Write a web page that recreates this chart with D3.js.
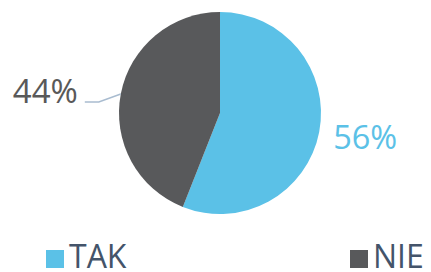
<!DOCTYPE html>
<html><head><meta charset="utf-8">
<script src="https://cdn.jsdelivr.net/npm/d3@7"></script>
<style>body{margin:0;background:#fff}svg{display:block}</style>
</head><body>
<svg id="c" width="431" height="272"></svg>
<script>
const categories = ["TAK", "NIE"];
const values = [56, 44];
const labels = ["56%", "44%"];
const colors = ["#5bc1e7", "#58595b"];

const svg = d3.select("#c");
const cx = 220, cy = 113, R = 101;
const g = svg.append("g").attr("transform", `translate(${cx},${cy})`);
const pie = d3.pie().sort(null).value(d => d)(values);
const arc = d3.arc().innerRadius(0).outerRadius(R);
g.selectAll("path").data(pie).join("path")
  .attr("d", arc).attr("fill", (d, i) => colors[i]);

const font = "'Open Sans', sans-serif";
// 56% label
const a0 = (pie[0].startAngle + pie[0].endAngle) / 2;
const e0 = [R * Math.sin(a0), -R * Math.cos(a0)];
g.append("text").attr("x", e0[0] + 14).attr("y", e0[1] + 17)
  .attr("font-family", font).attr("font-size", 32.5).attr("fill", colors[0])
  .text(labels[0]);
// 44% label with leader
const a1 = (pie[1].startAngle + pie[1].endAngle) / 2;
const e1 = [R * Math.sin(a1), -R * Math.cos(a1)];
g.append("polyline")
  .attr("points", [[e1[0], e1[1]], [e1[0] - 22, e1[1] + 8], [e1[0] - 36, e1[1] + 8]].map(p => p.join(",")).join(" "))
  .attr("fill", "none").attr("stroke", "#a9bcd0").attr("stroke-width", 1.5);
g.append("text").attr("x", e1[0] - 43).attr("y", e1[1] + 9).attr("text-anchor", "end")
  .attr("font-family", font).attr("font-size", 33).attr("fill", "#595959")
  .text(labels[1]);

// legend
const lx = d3.scaleOrdinal().domain(categories).range([46, 350]);
const lg = svg.selectAll("g.leg").data(categories).join("g").attr("class", "leg")
  .attr("transform", d => `translate(${lx(d)},250)`);
lg.append("rect").attr("width", 18).attr("height", 18).attr("fill", (d, i) => colors[i]);
lg.append("text").attr("x", 23).attr("y", 18)
  .attr("font-family", font).attr("font-size", 32).attr("fill", "#44546a")
  .text(d => d);
</script>
</body></html>
